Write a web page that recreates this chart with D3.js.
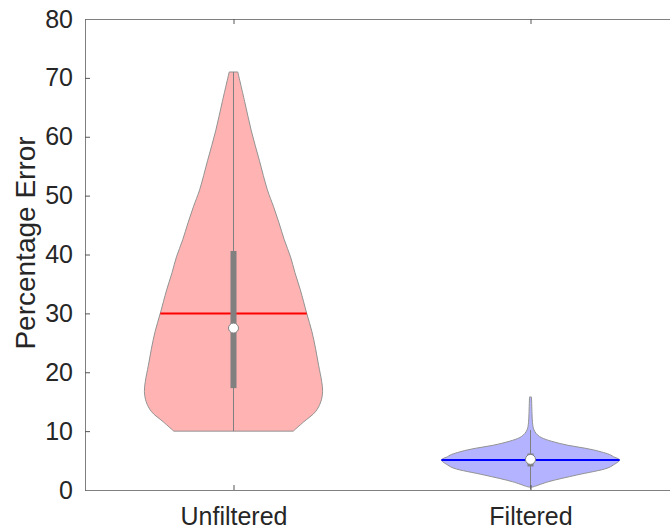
<!DOCTYPE html>
<html>
<head>
<meta charset="utf-8">
<script src="https://cdn.jsdelivr.net/npm/d3@7"></script>
<style>
  body { margin: 0; background: #fff; }
  svg { display: block; font-family: "Liberation Sans", Arial, sans-serif; }
</style>
</head>
<body>
<svg id="Violin" width="670" height="530"></svg>
<script>
// categories and summary values
var categories = ["Unfiltered", "Filtered"]
var yTicks = [0, 10, 20, 30, 40, 50, 60, 70, 80]

// [value, relative density] along each violin's outline
var unfilteredDensity = [[10, 0.67], [11.6, 0.79], [13.3, 0.92], [15, 0.98], [16.7, 1.0], [18.4, 0.99],
    [21.2, 0.955], [24.1, 0.92], [26.9, 0.88], [30.1, 0.82], [34, 0.75], [36.9, 0.69], [39.6, 0.64],
    [42.5, 0.57], [45.4, 0.51], [48.1, 0.45], [51, 0.38], [56, 0.29], [61, 0.2], [66, 0.125], [71, 0.048]]
var filteredDensity = [[0.5, 0.02], [0.6, 0.044], [1.4, 0.2], [2.55, 0.52], [3.7, 0.86], [4.25, 0.93],
    [5.1, 1.0], [5.66, 0.93], [5.95, 0.9], [6.8, 0.71], [7.9, 0.33], [9.1, 0.1], [10.2, 0.039],
    [11.5, 0.022], [13, 0.017], [15.8, 0.011]]

var means = [30, 5.1]
var medians = [27.5, 5.2]
var q1 = [17.3, 4.0]
var q3 = [40.6, 6.2]
var whiskerLow = [10, 0.1]
var whiskerHigh = [71, 10.2]

var fills = ["#ffb3b3", "#b3b3ff"]
var meanColors = ["#ff0000", "#0000ff"]

var dimensions = {
    width: 670,
    height: 530,
    margin: { top: 19, bottom: 40, left: 85, right: -9 }
}

var svg = d3.select("#Violin")

var xScale = d3.scaleLinear()
               .domain([0.5, 2.5])
               .range([dimensions.margin.left, dimensions.width - dimensions.margin.right])

var yScale = d3.scaleLinear()
               .domain([0, 80])
               .range([dimensions.height - dimensions.margin.bottom, dimensions.margin.top])

// violin half width in category units
var halfWidth = 0.3
var wScale = d3.scaleLinear().domain([0, 1]).range([0, xScale(0.5 + halfWidth) - xScale(0.5)])

var densities = [unfilteredDensity, filteredDensity]

function densityAt(dens, v) {
    for (var i = 1; i < dens.length; i++) {
        if (v <= dens[i][0]) {
            var t = (v - dens[i - 1][0]) / (dens[i][0] - dens[i - 1][0])
            return dens[i - 1][1] + t * (dens[i][1] - dens[i - 1][1])
        }
    }
    return dens[dens.length - 1][1]
}

var plot = svg.append("g")

categories.forEach(function(cat, i) {
    var cx = xScale(i + 1)
    var area = d3.area()
                 .curve(d3.curveCatmullRom)
                 .y(d => yScale(d[0]))
                 .x0(d => cx - wScale(d[1]))
                 .x1(d => cx + wScale(d[1]))

    plot.append("path")
        .datum(densities[i])
        .attr("d", area)
        .attr("fill", fills[i])
        .attr("stroke", "#939393")
        .attr("stroke-width", 1)

    // whisker
    plot.append("line")
        .attr("x1", cx).attr("x2", cx)
        .attr("y1", yScale(whiskerLow[i]))
        .attr("y2", yScale(whiskerHigh[i]))
        .attr("stroke", "#808080")
        .attr("stroke-width", 1)

    // mean line across the violin
    var mw = wScale(densityAt(densities[i], means[i]))
    plot.append("line")
        .attr("x1", cx - mw).attr("x2", cx + mw)
        .attr("y1", yScale(means[i])).attr("y2", yScale(means[i]))
        .attr("stroke", meanColors[i])
        .attr("stroke-width", 2)

    // interquartile box
    plot.append("rect")
        .attr("x", cx - 3)
        .attr("width", 6)
        .attr("y", yScale(q3[i]))
        .attr("height", yScale(q1[i]) - yScale(q3[i]))
        .attr("fill", "#808080")

    // median
    plot.append("circle")
        .attr("cx", cx)
        .attr("cy", yScale(medians[i]))
        .attr("r", 5)
        .attr("fill", "#ffffff")
        .attr("stroke", "#808080")
        .attr("stroke-width", 1)
})

var axisColor = "#808080"
var textColor = "#262626"

var yAxis = svg.append("g")
               .attr("transform", `translate(${dimensions.margin.left},0)`)
               .call(d3.axisLeft(yScale).tickValues(yTicks).tickSizeInner(-5).tickSizeOuter(0).tickPadding(12))

var xAxis = svg.append("g")
               .attr("transform", `translate(0,${yScale(0)})`)
               .call(d3.axisBottom(xScale).tickValues([1, 2]).tickFormat(d => categories[d - 1])
                     .tickSizeInner(-5).tickSizeOuter(0).tickPadding(17))

var topAxis = svg.append("g")
                 .attr("transform", `translate(0,${yScale(80)})`)
                 .call(d3.axisTop(xScale).tickValues([1, 2]).tickFormat("").tickSizeInner(-5).tickSizeOuter(0))

var rightAxis = svg.append("g")
                   .attr("transform", `translate(${xScale(2.5)},0)`)
                   .call(d3.axisRight(yScale).tickValues(yTicks).tickFormat("").tickSizeInner(-5).tickSizeOuter(0))

svg.selectAll(".domain").attr("stroke", axisColor)
svg.selectAll(".tick line").attr("stroke", "#555")
svg.selectAll(".tick text")
   .attr("fill", textColor)
   .style("font-family", "'Liberation Sans', Arial, sans-serif")
   .style("font-size", "25px")

var yAxisText = svg.append("text")
                   .attr("transform", "rotate(-90)")
                   .attr("x", -243)
                   .attr("y", 35)
                   .attr("text-anchor", "middle")
                   .attr("fill", textColor)
                   .style("font-size", "28px")
                   .text("Percentage Error")
</script>
</body>
</html>
